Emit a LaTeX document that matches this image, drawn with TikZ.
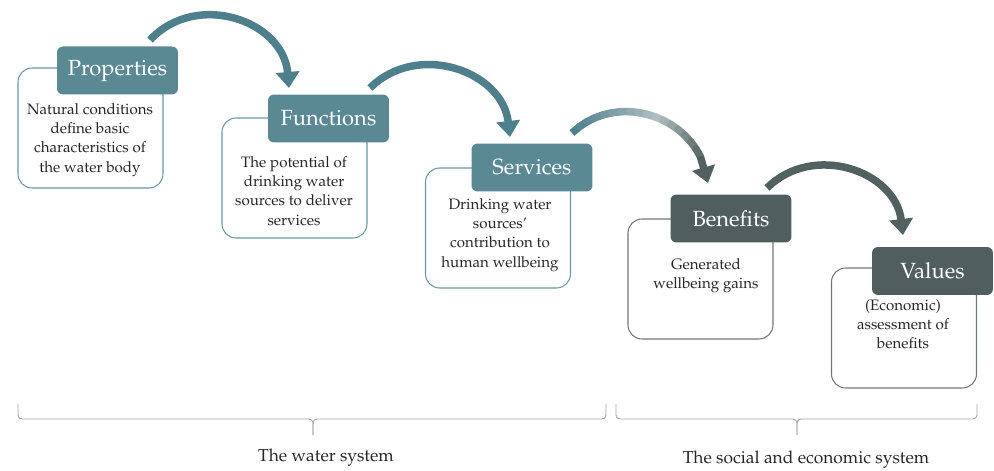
\documentclass[tikz,border=0pt]{standalone}
\usepackage[T1]{fontenc}
\usepackage{mathpazo}
\usetikzlibrary{arrows.meta}
\definecolor{hdteal}{RGB}{90,137,148}
\definecolor{hddark}{RGB}{80,94,96}
\definecolor{lnteal}{RGB}{108,150,160}
\definecolor{lndark}{RGB}{112,120,120}
\definecolor{arteal}{RGB}{78,127,141}
\definecolor{arlight}{RGB}{176,190,192}
\definecolor{ardark}{RGB}{82,96,96}
\definecolor{brgray}{RGB}{165,165,165}
\begin{document}
\begin{tikzpicture}[x=0.02cm,y=0.02cm,
  box/.style={draw=lnteal, fill=white, line width=0.6pt, rounded corners=0.28cm, minimum width=2.9cm, minimum height=2.4cm},
  head/.style={fill=hdteal, text=white, rounded corners=0.12cm, minimum width=2.42cm, minimum height=0.96cm, inner sep=0pt, font=\fontsize{12.5}{14}\selectfont},
  txt/.style={align=center, text=black!85, font=\fontsize{8.6}{10.9}\selectfont},
  flow/.style={line width=0.15cm, -{Triangle[width=0.46cm,length=0.32cm]}},
  brace/.style={brgray, line width=0.5pt, rounded corners=0.08cm},
  lbl/.style={text=black!85, font=\fontsize{9.9}{11}\selectfont}]
\useasboundingbox (0,0) rectangle (994,470);
%Boxes
\node[box] (propbox) at (90.5,342) {};
\node[box] (funcbox) at (294.5,292) {};
\node[box] (servbox) at (498,242) {};
\node[box, draw=lndark] (benebox) at (700.5,191) {};
\node[box, draw=lndark] (valsbox) at (904,142) {};
%Headers
\node[head] (prop) at (117.5,399.5) {Properties};
\node[head] (func) at (328.5,351.5) {Functions};
\node[head] (serv) at (532,302.5) {Services};
\node[head, fill=hddark] (bene) at (731,251.5) {Benefits};
\node[head, fill=hddark] (vals) at (932.5,199) {Values};
%Texts
\node[txt] (proptxt) at (90,330) {Natural conditions\\define basic\\characteristics of\\the water body};
\node[txt] (functxt) at (294,279) {The potential of\\drinking water\\sources to deliver\\services};
\node[txt] (servtxt) at (500,235) {Drinking water\\sources'\\contribution to\\human wellbeing};
\node[txt] (benetxt) at (706,194) {Generated\\wellbeing gains};
\node[txt] (valstxt) at (903,146) {(Economic)\\assessment of\\benefits};
%Arrows
\coordinate (a1s) at (150,430); \coordinate (a1e) at (289,382);
\coordinate (a2s) at (370,382); \coordinate (a2e) at (510,333);
\coordinate (a3s) at (572,337); \coordinate (a3e) at (708,287);
\coordinate (a4s) at (767,282); \coordinate (a4e) at (903,235);
\draw[flow, arteal] (a1s) to[bend left=66, looseness=1.18] (a1e);
\draw[flow, arteal] (a2s) to[bend left=64, looseness=1.15] (a2e);
\draw[flow, ardark] (a4s) to[bend left=64, looseness=1.15] (a4e);
\foreach \i in {0,...,20}
  \path (a3s) to[bend left=64, looseness=1.15] coordinate[pos=\i/20] (g\i) (a3e);
\draw[line width=0.15cm, arteal] (g0) -- (g1);
\foreach \i [evaluate=\i as \j using int(\i+1)] in {1,...,16}{
  \ifnum\i<10 \pgfmathtruncatemacro{\p}{100*\i/10}\colorlet{segc}{arlight!\p!arteal}
  \else \pgfmathtruncatemacro{\p}{100*(\i-10)/7}\colorlet{segc}{ardark!\p!arlight}\fi
  \draw[line width=0.15cm, line cap=round, segc] (g\i) -- (g\j);
}
\draw[flow, ardark] (g17) -- (g20);
%Braces
\draw[brace] (18,66) -- (18,51) -- (313,51) -- (313,35);
\draw[brace] (313,35) -- (313,51) -- (606,51) -- (606,66);
\draw[brace] (616,66) -- (616,51) -- (797,51) -- (797,35);
\draw[brace] (797,35) -- (797,51) -- (977,51) -- (977,66);
\node[lbl] (water) at (326,12) {The water system};
\node[lbl] (social) at (806,10) {The social and economic system};
\end{tikzpicture}
\end{document}
